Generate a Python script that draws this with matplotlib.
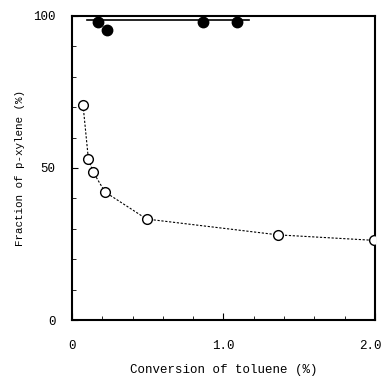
import matplotlib
matplotlib.use("Agg")
import matplotlib.pyplot as plt
from matplotlib.ticker import MultipleLocator
from matplotlib.transforms import ScaledTranslation

# Data
filled_x = [0.17, 0.23, 0.865, 1.09]
filled_y = [97.9, 95.5, 98.1, 98.1]
filled_line_x = [0.10, 1.17]
filled_line_y = [98.5, 98.5]

open_x = [0.073, 0.108, 0.14, 0.218, 0.493, 1.362, 1.995]
open_y = [70.6, 53.0, 48.6, 42.1, 33.2, 28.0, 26.2]

xticks = [0, 1.0, 2.0]
xticklabels = ["0", "1.0", "2.0"]
yticks = [0, 50, 100]
yticklabels = ["0", "50", "100"]

plt.rcParams['font.family'] = ['Liberation Mono', 'DejaVu Sans Mono']

fig = plt.figure(figsize=(3.83, 3.77), dpi=100)
ax = fig.add_axes([0.188, 0.151, 0.791, 0.807])

ax.plot(filled_line_x, filled_line_y, color='black', lw=1.2, zorder=2)
ax.plot(filled_x, filled_y, 'o', color='black', ms=7.5, zorder=3)
ax.plot(open_x, open_y, color='black', lw=0.8, ls=(0, (2, 1.5)), zorder=2)
ax.plot(open_x, open_y, 'o', mfc='white', mec='black', mew=1.0, ms=7, zorder=3)

ax.set_xlim(0, 2.0)
ax.set_ylim(0, 100)
ax.set_xticks(xticks)
ax.set_xticklabels(xticklabels)
ax.set_yticks(yticks)
ax.set_yticklabels(yticklabels)
ax.xaxis.set_minor_locator(MultipleLocator(0.2))
ax.yaxis.set_minor_locator(MultipleLocator(10))
ax.tick_params(which='both', direction='in', labelsize=9, color='black')
ax.tick_params(axis='x', which='major', length=5, pad=14)
ax.tick_params(axis='y', which='major', length=4, pad=12)
ax.tick_params(which='minor', length=3)

# nudge last x tick label so it stays inside the figure
lbl = ax.get_xticklabels()[-1]
lbl.set_transform(lbl.get_transform() + ScaledTranslation(-3/72, 0, fig.dpi_scale_trans))

for s in ax.spines.values():
    s.set_linewidth(1.5)

ax.set_xlabel("Conversion of toluene (%)", fontsize=9, labelpad=9)
ax.set_ylabel("Fraction of p-xylene (%)", fontsize=7.8, labelpad=6)

fig.savefig("out.png", dpi=100)
